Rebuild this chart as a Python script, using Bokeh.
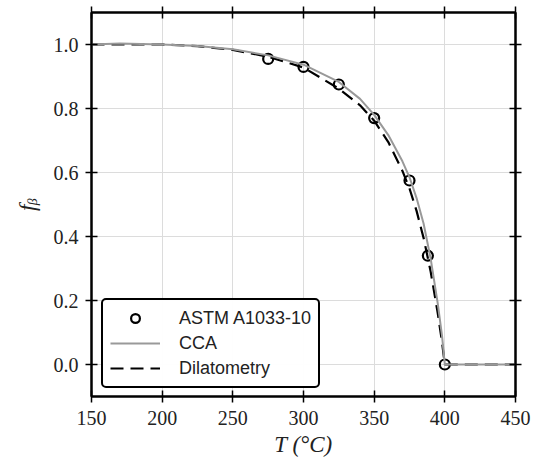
from bokeh.plotting import figure
from bokeh.models import Range1d, LinearAxis, Legend, LegendItem, FixedTicker
from bokeh.embed import file_html
from bokeh.resources import INLINE

# ASTM A1033-10 points
astm_T = [275, 300, 325, 350, 375, 388, 400]
astm_f = [0.955, 0.93, 0.875, 0.77, 0.575, 0.34, 0.0]

# CCA curve
cca_T = [150, 170, 200, 225, 250, 275, 300, 325, 340, 350, 360, 370, 375, 380, 385, 390, 395, 398, 400, 425, 450]
cca_f = [1.0, 1.003, 1.0, 0.995, 0.985, 0.966, 0.937, 0.883, 0.83, 0.78, 0.717, 0.635, 0.585, 0.52, 0.44, 0.33, 0.19, 0.09, 0.0, 0.0, 0.0]

# Dilatometry curve
dil_T = [150, 200, 225, 250, 275, 300, 325, 340, 350, 360, 370, 375, 380, 385, 390, 395, 398, 400, 425, 450]
dil_f = [1.0, 1.0, 0.995, 0.983, 0.962, 0.928, 0.862, 0.81, 0.762, 0.695, 0.605, 0.55, 0.48, 0.395, 0.29, 0.16, 0.07, 0.0, 0.0, 0.0]

x_ticks = [150, 200, 250, 300, 350, 400, 450]
y_ticks = [0.0, 0.2, 0.4, 0.6, 0.8, 1.0]

p = figure(frame_width=424, frame_height=384, output_backend="svg", toolbar_location=None,
           x_range=Range1d(150, 450), y_range=Range1d(-0.1, 1.1),
           min_border_left=91, min_border_right=27, min_border_top=12, min_border_bottom=66)
p.outline_line_color = "black"
p.outline_line_width = 2
p.background_fill_color = "white"
p.border_fill_color = "white"

bottom = p.below[0]
left = p.left[0]

p.xgrid.grid_line_color = "#dcdcdc"
p.ygrid.grid_line_color = "#dcdcdc"
p.xgrid.ticker = FixedTicker(ticks=x_ticks)
p.ygrid.ticker = FixedTicker(ticks=y_ticks)

top = LinearAxis(ticker=FixedTicker(ticks=x_ticks),
                 major_label_overrides={t: "" for t in x_ticks})
right = LinearAxis(ticker=FixedTicker(ticks=y_ticks),
                   major_label_overrides={t: "" for t in y_ticks})
p.add_layout(top, "above")
p.add_layout(right, "right")

for ax in [bottom, left, top, right]:
    ax.axis_line_width = 2
    ax.axis_line_color = "black"
    ax.major_tick_in = 6
    ax.major_tick_out = 6
    ax.major_tick_line_width = 1.5
    ax.minor_tick_line_color = None
    ax.major_label_text_font = "Liberation Serif"
    ax.major_label_text_font_size = "20px"
    ax.major_label_text_color = "#222222"

bottom.ticker = FixedTicker(ticks=x_ticks)
left.ticker = FixedTicker(ticks=y_ticks)
left.major_label_overrides = {v: "%.1f" % v for v in y_ticks}
left.major_label_standoff = 7
bottom.major_label_standoff = 8
top.major_label_standoff = 0
right.major_label_standoff = 0

bottom.axis_label = "T (°C)"
left.axis_label = "fᵦ"
for ax in [bottom, left]:
    ax.axis_label_text_font = "Liberation Serif"
    ax.axis_label_text_font_style = "italic"
    ax.axis_label_text_font_size = "23px"
    ax.axis_label_text_color = "#222222"
bottom.axis_label_standoff = 4
left.axis_label_standoff = 11

r_astm = p.scatter(astm_T, astm_f, marker="circle", size=10, fill_color=None,
                   line_color="black", line_width=2.2)
r_dil = p.line(dil_T, dil_f, line_color="black", line_width=2.2, line_dash="13 7")
r_cca = p.line(cca_T, cca_f, line_color="#999999", line_width=2)

legend = Legend(items=[LegendItem(label="ASTM A1033-10", renderers=[r_astm]),
                       LegendItem(label="CCA", renderers=[r_cca]),
                       LegendItem(label="Dilatometry", renderers=[r_dil])],
                location=(10, 8))
legend.label_text_font = "Liberation Sans"
legend.label_text_font_size = "18px"
legend.label_text_color = "#222222"
legend.border_line_color = "black"
legend.border_line_alpha = 1.0
legend.border_line_width = 2
legend.glyph_width = 50
legend.glyph_height = 22
legend.label_height = 22
legend.label_standoff = 19
legend.spacing = 3
legend.padding = 7
legend.margin = 0
try:
    legend.border_radius = 5
except Exception:
    pass
p.add_layout(legend, "center")

open("out.html", "w").write(file_html(p, INLINE))
